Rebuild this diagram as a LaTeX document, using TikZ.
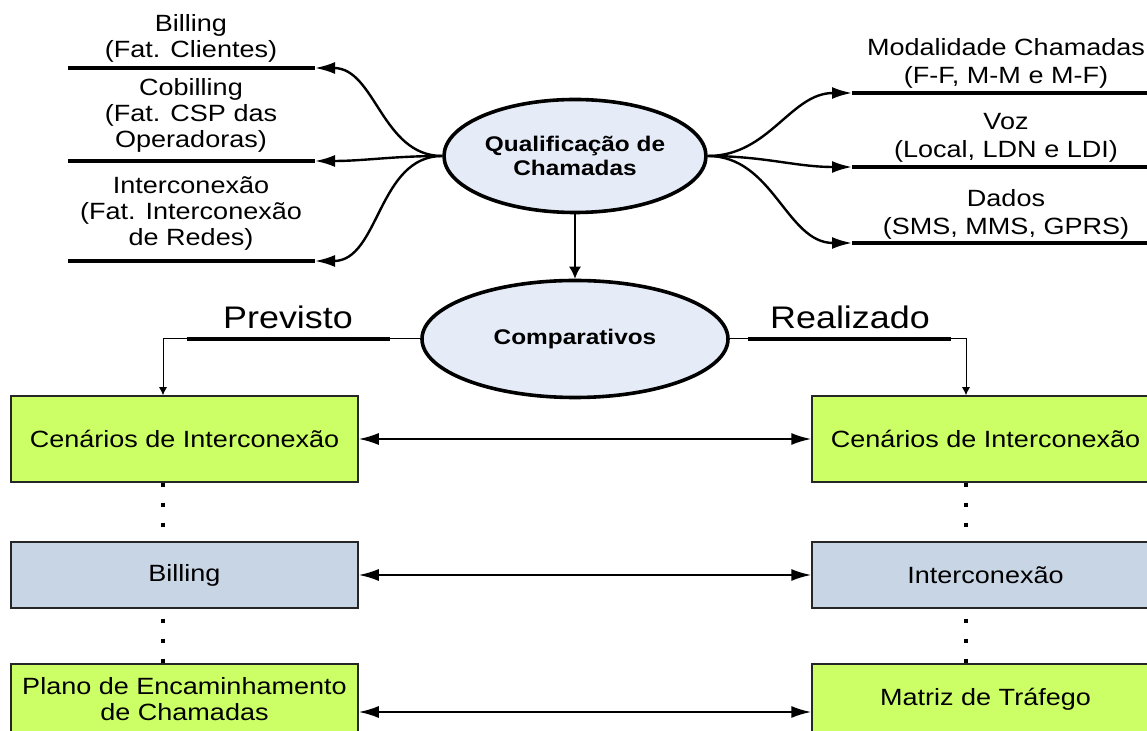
\documentclass[tikz,border=0pt]{standalone}
\usepackage{fontspec}
\setmainfont{Liberation Sans}[FakeStretch=1.15]
\usetikzlibrary{arrows.meta, shapes.geometric, positioning, calc}
\definecolor{quadverde}{HTML}{CCFF66}
\definecolor{quadazul}{HTML}{C8D5E5}
\definecolor{elipse}{HTML}{E6ECF7}
\tikzstyle{quadro} = [rectangle, draw=black!85, line width=0.75pt,
    minimum width=173.5pt, inner sep=2pt, align=center,
    font=\fontsize{11.75}{13}\selectfont]
\tikzstyle{bolha} = [ellipse, draw, line width=1.8pt, fill=elipse,
    inner sep=0pt, align=center, font=\fontsize{10.6}{12}\selectfont\bfseries]
\tikzstyle{rotulo} = [align=center, inner sep=0pt, font=\fontsize{11.75}{13}\selectfont]
\tikzstyle{grande} = [inner sep=0pt, font=\fontsize{15.6}{18}\selectfont]
\tikzstyle{traco} = [line width=2pt]
\tikzstyle{ramo} = [line width=1.2pt, -{Latex[length=10pt,width=6pt]}]
\tikzstyle{duplo} = [line width=1pt, {Latex[length=10pt,width=6pt]}-{Latex[length=10pt,width=6pt]}]
\tikzstyle{fino} = [line width=0.5pt, -{Latex[length=4pt,width=4pt]}]
\tikzstyle{pontos} = [line width=2pt, dash pattern=on 2pt off 8pt]

\begin{document}
\begin{tikzpicture}[x=0.5pt, y=-0.5pt]

	\useasboundingbox (0,0) rectangle (1147,731);
	\clip (0,0) rectangle (1147,731);

	% elipses
	\node[bolha, minimum width=131pt, minimum height=56.5pt] (qual) at (575,156)
		{Qualificação de\\Chamadas};
	\node[bolha, minimum width=153pt, minimum height=58.5pt] (comp) at (575,339)
		{Comparativos};

	\draw[line width=0.75pt, -{Latex[length=6pt,width=6pt]}] (qual) -- (comp);

	% lado esquerdo, faturamento
	\coordinate (bilA) at (68,68);   \coordinate (bilB) at (315,68);
	\coordinate (cobA) at (68,161);  \coordinate (cobB) at (315,161);
	\coordinate (intA) at (68,261);  \coordinate (intB) at (315,261);

	\node[rotulo] (billing) at (191,38) {Billing\\(Fat. Clientes)};
	\node[rotulo] (cobilling) at (191,115) {Cobilling\\(Fat. CSP das\\Operadoras)};
	\node[rotulo] (interc) at (191,214) {Interconexão\\(Fat. Interconexão\\de Redes)};

	\draw[traco] (bilA) -- (bilB);
	\draw[traco] (cobA) -- (cobB);
	\draw[traco] (intA) -- (intB);

	\draw[ramo] (qual.west) to[out=180,in=0] (bilB);
	\draw[ramo] (qual.west) to[out=180,in=0] (cobB);
	\draw[ramo] (qual.west) to[out=180,in=0] (intB);

	% lado direito, tipos de chamada
	\coordinate (modA) at (852,93);   \coordinate (modB) at (1160,93);
	\coordinate (vozA) at (852,167);  \coordinate (vozB) at (1160,167);
	\coordinate (datA) at (852,243);  \coordinate (datB) at (1160,243);

	\node[rotulo, font=\fontsize{11.75}{14}\selectfont] (modal) at (1006,63)
		{Modalidade Chamadas\\(F-F, M-M e M-F)};
	\node[rotulo, font=\fontsize{11.75}{14}\selectfont] (voz) at (1006,138)
		{Voz\\(Local, LDN e LDI)};
	\node[rotulo, font=\fontsize{11.75}{14}\selectfont] (dados) at (1006,214)
		{Dados\\(SMS, MMS, GPRS)};

	\draw[traco] (modA) -- (modB);
	\draw[traco] (vozA) -- (vozB);
	\draw[traco] (datA) -- (datB);

	\draw[ramo] (qual.east) to[out=0,in=180] (modA);
	\draw[ramo] (qual.east) to[out=0,in=180] (vozA);
	\draw[ramo] (qual.east) to[out=0,in=180] (datA);

	% quadros, previsto
	\node[quadro, fill=quadverde, minimum height=43pt] (cenL) at (184.5,439)
		{Cenários de Interconexão};
	\node[quadro, fill=quadazul, minimum height=33pt] (billL) at (184.5,575)
		{Billing};
	\node[quadro, fill=quadverde, minimum height=35pt] (planoL) at (184.5,699)
		{Plano de Encaminhamento\\de Chamadas};

	% quadros, realizado
	\node[quadro, fill=quadverde, minimum height=43pt] (cenR) at (985.5,439)
		{Cenários de Interconexão};
	\node[quadro, fill=quadazul, minimum height=33pt] (interR) at (985.5,575)
		{Interconexão};
	\node[quadro, fill=quadverde, minimum height=35pt] (matrizR) at (985.5,699)
		{Matriz de Tráfego};

	% previsto
	\coordinate (prevA) at (187,339);
	\coordinate (prevB) at (390,339);
	\coordinate (prevC) at (163,339);
	\node[grande, anchor=base] (previsto) at (288,329) {Previsto};
	\draw[line width=0.5pt] (comp.west) -- (prevB);
	\draw[traco] (prevB) -- (prevA);
	\draw[fino] (prevA) -- (prevC) -- (prevC |- cenL.north);

	% realizado
	\coordinate (realA) at (748,339);
	\coordinate (realB) at (951,339);
	\coordinate (realC) at (966,339);
	\node[grande, anchor=base] (realizado) at (850,329) {Realizado};
	\draw[line width=0.5pt] (comp.east) -- (realA);
	\draw[traco] (realA) -- (realB);
	\draw[fino] (realB) -- (realC) -- (realC |- cenR.north);

	% ligacoes pontilhadas
	\draw[pontos] (prevC |- cenL.south) -- (prevC |- billL.north);
	\draw[pontos] ($(prevC |- billL.south)+(0,10)$) -- (prevC |- planoL.north);
	\draw[pontos] (realC |- cenR.south) -- (realC |- interR.north);
	\draw[pontos] ($(realC |- interR.south)+(0,10)$) -- (realC |- matrizR.north);

	% comparacoes
	\draw[duplo] (cenL.east) -- (cenR.west);
	\draw[duplo] (billL.east) -- (interR.west);
	\draw[duplo] ($(planoL.east)+(0,13)$) -- ($(matrizR.west)+(0,13)$);

\end{tikzpicture}
\end{document}
